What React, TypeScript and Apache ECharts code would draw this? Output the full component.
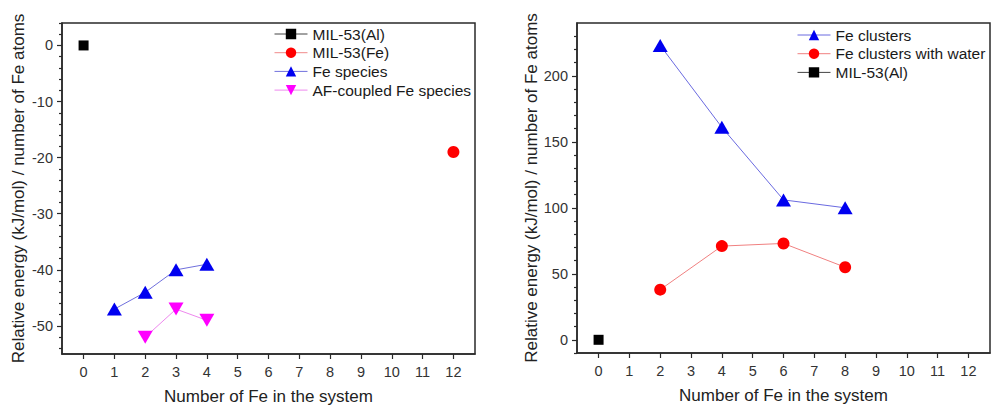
import React, { useEffect, useRef } from "react";
import * as echarts from "echarts";

// ---- Data (left panel) ----
const xTicks = [0, 1, 2, 3, 4, 5, 6, 7, 8, 9, 10, 11, 12];
const leftMajorY = [-50, -40, -30, -20, -10, 0];
const leftMinorY = [-54, -52, -48, -46, -44, -42, -38, -36, -34, -32, -28, -26, -24, -22, -18, -16, -14, -12, -8, -6, -4, -2, 2, 4];
const milAlLeft: [number, number][] = [[0, 0]];
const milFe: [number, number][] = [[12, -19]];
const feSpecies: [number, number][] = [[1, -47], [2, -44], [3, -40], [4, -39]];
const afFeSpecies: [number, number][] = [[2, -52], [3, -47], [4, -49]];

// ---- Data (right panel) ----
const rightMajorY = [0, 50, 100, 150, 200];
const rightMinorY = [-10, 10, 20, 30, 40, 60, 70, 80, 90, 110, 120, 130, 140, 160, 170, 180, 190, 210, 220, 230];
const feClusters: [number, number][] = [[2, 223], [4, 161], [6, 106], [8, 100]];
const feClustersWater: [number, number][] = [[2, 38], [4, 71], [6, 73], [8, 55]];
const milAlRight: [number, number][] = [[0, 0]];

const FONT = "Liberation Sans, Arial, sans-serif";
const AX = "#2a2a2a";

function xAxis(gridIndex: number) {
  return {
    type: "value",
    gridIndex,
    min: -0.7,
    max: 12.7,
    name: "Number of Fe in the system",
    nameLocation: "middle",
    nameGap: 34,
    nameTextStyle: { fontFamily: FONT, fontSize: 17, color: "#222" },
    axisLine: { show: true, onZero: false, lineStyle: { color: AX, width: 1.5 } },
    axisTick: { show: true, inside: false, length: 5, customValues: xTicks, lineStyle: { color: AX, width: 1.2 } },
    axisLabel: { show: true, customValues: xTicks, margin: 10, fontFamily: FONT, fontSize: 14.5, color: "#333" },
    splitLine: { show: false },
  };
}

function yMajor(gridIndex: number, min: number, max: number, vals: number[], nameGap: number) {
  return {
    type: "value",
    gridIndex,
    min,
    max,
    position: "left",
    offset: 0,
    name: "Relative energy (kJ/mol) / number of Fe atoms",
    nameLocation: "middle",
    nameGap,
    nameTextStyle: { fontFamily: FONT, fontSize: 17, color: "#222" },
    axisLine: { show: true, onZero: false, lineStyle: { color: AX, width: 1.5 } },
    axisTick: { show: true, inside: false, length: 5, customValues: vals, lineStyle: { color: AX, width: 1.2 } },
    axisLabel: { show: true, customValues: vals, margin: 9, fontFamily: FONT, fontSize: 14.5, color: "#333" },
    splitLine: { show: false },
  };
}

function yMinor(gridIndex: number, min: number, max: number, vals: number[]) {
  return {
    type: "value",
    gridIndex,
    min,
    max,
    position: "left",
    offset: 0,
    axisLine: { show: false, onZero: false },
    axisTick: { show: true, inside: false, length: 3, customValues: vals, lineStyle: { color: AX, width: 1.2 } },
    axisLabel: { show: false },
    splitLine: { show: false },
  };
}

const downTri = "path://M0,0 L10,0 L5,9 Z";
const upTri = "path://M5,0 L10,9 L0,9 Z";

export default function App() {
  const ref = useRef<HTMLDivElement>(null);
  useEffect(() => {
    if (!ref.current) return;
    const chart = echarts.init(ref.current, undefined, { renderer: "svg" });
    const legendText = { fontFamily: FONT, fontSize: 15.5, color: "#1a1a1a" };
    chart.setOption({
      animation: false,
      backgroundColor: "#fff",
      grid: [
        { left: 62, top: 23, width: 413, height: 331, outerBoundsMode: "none", containLabel: false, show: true, borderColor: AX, borderWidth: 1.5, backgroundColor: "transparent" },
        { left: 577, top: 23, width: 413, height: 330, outerBoundsMode: "none", containLabel: false, show: true, borderColor: AX, borderWidth: 1.5, backgroundColor: "transparent" },
      ],
      xAxis: [xAxis(0), xAxis(1)],
      yAxis: [
        yMajor(0, -55, 4, leftMajorY, 35),
        yMinor(0, -55, 4, leftMinorY),
        yMajor(1, -10, 240, rightMajorY, 37),
        yMinor(1, -10, 240, rightMinorY),
      ],
      legend: [
        {
          left: 274, top: 26, padding: 0, orient: "vertical", itemWidth: 33, itemHeight: 13, itemGap: 2.7,
          textStyle: legendText, selectedMode: false, lineStyle: { width: 1 },
          data: ["MIL-53(Al)", "MIL-53(Fe)", "Fe species", "AF-coupled Fe species"],
        },
        {
          left: 797, top: 27, padding: 0, orient: "vertical", itemWidth: 33, itemHeight: 13, itemGap: 2.7,
          textStyle: legendText, selectedMode: false, lineStyle: { width: 1 },
          data: ["Fe clusters", "Fe clusters with water", "MIL-53(Al) "],
        },
      ],
      series: [
        {
          name: "MIL-53(Al)", type: "line", xAxisIndex: 0, yAxisIndex: 0, data: milAlLeft,
          symbol: "rect", symbolSize: 10, itemStyle: { color: "#000" }, lineStyle: { color: "#444", width: 1 },
        },
        {
          name: "MIL-53(Fe)", type: "line", xAxisIndex: 0, yAxisIndex: 0, data: milFe,
          symbol: "circle", symbolSize: 12, itemStyle: { color: "#f00" }, lineStyle: { color: "#f08a8a", width: 1 },
        },
        {
          name: "Fe species", type: "line", xAxisIndex: 0, yAxisIndex: 0, data: feSpecies,
          symbol: upTri, symbolSize: [15, 13], itemStyle: { color: "#0000f0" }, lineStyle: { color: "#7070dd", width: 1 },
        },
        {
          name: "AF-coupled Fe species", type: "line", xAxisIndex: 0, yAxisIndex: 0, data: afFeSpecies,
          symbol: downTri, symbolSize: [15, 13], itemStyle: { color: "#ff00ff" }, lineStyle: { color: "#ee88ee", width: 1 },
        },
        {
          name: "Fe clusters", type: "line", xAxisIndex: 1, yAxisIndex: 2, data: feClusters,
          symbol: upTri, symbolSize: [15, 13], itemStyle: { color: "#0000f0" }, lineStyle: { color: "#6a6ae0", width: 1 },
        },
        {
          name: "Fe clusters with water", type: "line", xAxisIndex: 1, yAxisIndex: 2, data: feClustersWater,
          symbol: "circle", symbolSize: 12, itemStyle: { color: "#f00" }, lineStyle: { color: "#f08080", width: 1 },
        },
        {
          name: "MIL-53(Al) ", type: "line", xAxisIndex: 1, yAxisIndex: 2, data: milAlRight,
          symbol: "rect", symbolSize: 10, itemStyle: { color: "#000" }, lineStyle: { color: "#444", width: 1 },
        },
      ],
    });
    return () => chart.dispose();
  }, []);
  return <div ref={ref} style={{ position: "absolute", left: 0, top: 0, width: 991, height: 405 }} />;
}
